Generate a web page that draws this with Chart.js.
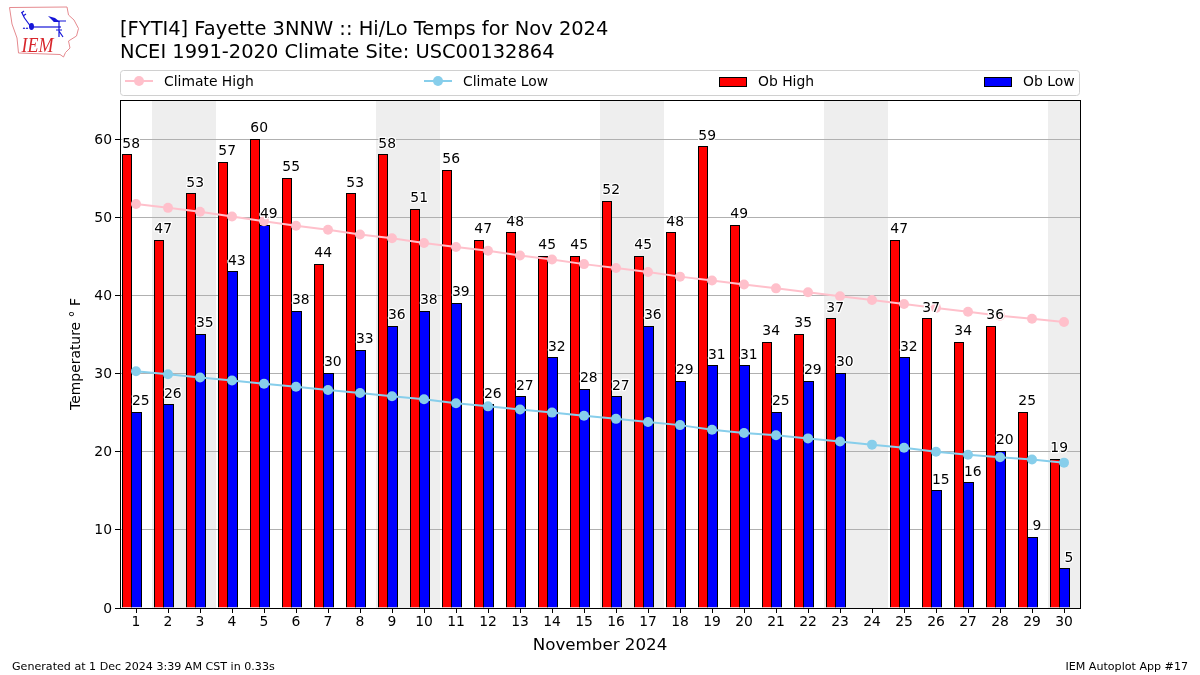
<!DOCTYPE html>
<html>
<head>
<meta charset="utf-8">
<title>Hi/Lo Temps</title>
<script src="https://cdn.jsdelivr.net/npm/chart.js"></script>
<style>
  html, body { margin: 0; padding: 0; background: #fff; }
  #wrap { position: relative; width: 1200px; height: 675px; overflow: hidden; }
  canvas { display: block; }
  #logo { position: absolute; left: 0; top: 0; }
</style>
</head>
<body>
<div id="wrap">
  <canvas id="chart" width="1200" height="675"></canvas>
  <svg id="logo" width="90" height="62" viewBox="0 0 90 62">
    <path d="M9.5 7.5 L67 7 L68.5 15 L74 20 L78.5 28.5 L76.5 36 L68.5 41 L70 48 L65.5 52.5 L63.5 57 L60 54.5 L18.5 53 L17 38 L12 24 Z"
          fill="none" stroke="#e58a8f" stroke-width="1"/>
    <g stroke="#1515d8" fill="none" stroke-width="1.2">
      <path d="M31 27 H61"/>
      <path d="M31 27 L24.5 18 M24.5 18 L21.5 12 M21.5 13 L24 11 M23 16 L26 14"/>
      <path d="M53.5 21 H66 M59 21 V37 M56 30 H62 M59 31 L63 37"/>
    </g>
    <ellipse cx="31.5" cy="26.5" rx="2.5" ry="3.4" fill="#1515d8"/>
    <path d="M48 16 L55 18 L60 22 L54 22 Z" fill="#1515d8"/>
    <path d="M24 27 l1.3 2 h-2.6 Z M27 27 l1.3 2 h-2.6 Z" fill="#2a2ad8"/>
    <text x="21.5" y="52" font-family="Liberation Serif" font-style="italic" font-size="22" textLength="32" lengthAdjust="spacingAndGlyphs" fill="#d8262c">IEM</text>
  </svg>
</div>
<script>
const days = ['1','2','3','4','5','6','7','8','9','10','11','12','13','14','15','16','17','18','19','20','21','22','23','24','25','26','27','28','29','30'];
const obHigh = [58,47,53,57,60,55,44,53,58,51,56,47,48,45,45,52,45,48,59,49,34,35,37,null,47,37,34,36,25,19];
const obLow = [25,26,35,43,49,38,30,33,36,38,39,26,27,32,28,27,36,29,31,31,25,29,30,null,32,15,16,20,9,5];
const climateHigh = [51.7,51.2,50.7,50.1,49.5,48.9,48.4,47.8,47.3,46.7,46.2,45.7,45.1,44.6,44.0,43.5,43.0,42.4,41.9,41.4,40.9,40.4,39.9,39.4,38.9,38.4,37.9,37.4,37.0,36.6];
const climateLow = [30.3,29.9,29.5,29.1,28.7,28.3,27.9,27.5,27.1,26.7,26.2,25.8,25.4,25.0,24.6,24.2,23.8,23.4,22.8,22.4,22.1,21.7,21.3,20.9,20.5,20.0,19.6,19.3,19.0,18.6];
// Sat/Sun of Nov 2024, first and last day of each shaded span
const weekends = [['2','3'],['9','10'],['16','17'],['23','24'],['30','30']];

const FONT = '"DejaVu Sans"';
const titleLines = ['[FYTI4] Fayette 3NNW :: Hi/Lo Temps for Nov 2024', 'NCEI 1991-2020 Climate Site: USC00132864'];

// axvspan-style weekend shading, goes in before the grid
const shadePlugin = {
  id: 'shade',
  beforeDraw(chart) {
    const { ctx, chartArea, scales: { x, y } } = chart;
    // y tick text sits 1px lower in the original
    y.getLabelItems().forEach(item => { item.textOffset = 1; });
    const half = (x.getPixelForValue(1) - x.getPixelForValue(0)) / 2;
    ctx.save();
    ctx.fillStyle = '#eeeeee';
    weekends.forEach(([a, b]) => {
      const left = x.getPixelForValue(days.indexOf(a)) - half;
      const right = Math.min(x.getPixelForValue(days.indexOf(b)) + half, chartArea.right);
      ctx.fillRect(left, chartArea.top, right - left, chartArea.height);
    });
    ctx.restore();
  }
};

// Snap bar edges to whole pixels so the black outlines stay crisp, neighbours share an edge
const snapBars = {
  id: 'snapBars',
  afterDatasetsUpdate(chart) {
    [2, 3].forEach(di => {
      chart.getDatasetMeta(di).data.forEach(bar => {
        bar.labelX = bar.x + 4.8;
        bar.labelY = Math.round(bar.y - 7.2);
        const left = Math.round(bar.x - bar.width / 2);
        const right = Math.round(bar.x + bar.width / 2) + 1;
        bar.width = right - left;
        bar.x = left + bar.width / 2;
        bar.y = Math.floor(bar.y);
      });
    });
  }
};

// Value labels above the bars, white halo like the original
const valueLabels = {
  id: 'valueLabels',
  afterDatasetsDraw(chart) {
    const { ctx } = chart;
    ctx.save();
    ctx.font = `13.9px ${FONT}`;
    ctx.textAlign = 'center';
    ctx.textBaseline = 'alphabetic';
    ctx.lineJoin = 'round';
    [2, 3].forEach(di => {
      const meta = chart.getDatasetMeta(di);
      chart.data.datasets[di].data.forEach((v, i) => {
        if (v == null) return;
        const bar = meta.data[i];
        ctx.strokeStyle = '#fff';
        ctx.lineWidth = 2.5;
        ctx.strokeText(String(v), bar.labelX, bar.labelY);
        ctx.fillStyle = '#000';
        ctx.fillText(String(v), bar.labelX, bar.labelY);
      });
    });
    ctx.restore();
  }
};

// Axes frame, titles, legend box and footer
const furniture = {
  id: 'furniture',
  afterDraw(chart) {
    const { ctx, chartArea: a } = chart;
    ctx.save();
    ctx.strokeStyle = '#000';
    ctx.lineWidth = 1;
    ctx.strokeRect(a.left + 0.5, a.top + 0.5, a.width, a.height);

    ctx.fillStyle = '#000';
    ctx.textBaseline = 'alphabetic';
    ctx.font = `19.44px ${FONT}`;
    ctx.fillText(titleLines[0], 120, 35);
    ctx.fillText(titleLines[1], 120, 58);

    ctx.font = `11.1px ${FONT}`;
    ctx.fillText('Generated at 1 Dec 2024 3:39 AM CST in 0.33s', 12, 670);
    ctx.textAlign = 'right';
    ctx.fillText('IEM Autoplot App #17', 1188, 670);
    ctx.textAlign = 'left';

    // legend
    ctx.strokeStyle = '#d0d0d0';
    ctx.beginPath();
    ctx.roundRect(120.5, 70.5, 959, 25, 3);
    ctx.stroke();
    ctx.font = `13.9px ${FONT}`;
    const slots = [[125, 0], [424, 1], [719, 2], [984, 3]];
    slots.forEach(([sx, di]) => {
      const ds = chart.data.datasets[di];
      if (ds.type === 'line') {
        ctx.strokeStyle = ds.borderColor;
        ctx.lineWidth = 2;
        ctx.beginPath();
        ctx.moveTo(sx, 81);
        ctx.lineTo(sx + 28, 81);
        ctx.stroke();
        ctx.fillStyle = ds.pointBackgroundColor;
        ctx.beginPath();
        ctx.arc(sx + 14, 81, 5, 0, Math.PI * 2);
        ctx.fill();
      } else {
        ctx.fillStyle = ds.backgroundColor;
        ctx.fillRect(sx, 77, 28, 10);
        ctx.strokeStyle = '#000';
        ctx.lineWidth = 1;
        ctx.strokeRect(sx + 0.5, 77.5, 27, 9);
      }
      ctx.fillStyle = '#000';
      ctx.fillText(ds.label, sx + 39, 86);
    });
    ctx.restore();
  }
};

Chart.defaults.font.family = FONT;
Chart.defaults.color = '#000';

new Chart(document.getElementById('chart'), {
  data: {
    labels: days,
    datasets: [
      { type: 'line', label: 'Climate High', data: climateHigh, order: 0,
        borderColor: '#ffc0cb', backgroundColor: '#ffc0cb', pointBackgroundColor: '#ffc0cb',
        borderWidth: 2, pointRadius: 5, pointBorderWidth: 0, tension: 0 },
      { type: 'line', label: 'Climate Low', data: climateLow, order: 0,
        borderColor: '#87ceeb', backgroundColor: '#87ceeb', pointBackgroundColor: '#87ceeb',
        borderWidth: 2, pointRadius: 5, pointBorderWidth: 0, tension: 0 },
      { type: 'bar', label: 'Ob High', data: obHigh, order: 1, backgroundColor: '#ff0000', borderColor: '#000', borderWidth: 1, inflateAmount: 0 },
      { type: 'bar', label: 'Ob Low', data: obLow, order: 1, backgroundColor: '#0000ff', borderColor: '#000', borderWidth: 1, inflateAmount: 0 },
      // empty third slot: original bars sit left of the tick, not centred on it
      { type: 'bar', label: '', data: [], order: 1 }
    ]
  },
  options: {
    responsive: false,
    animation: false,
    events: [],
    layout: { padding: { top: 100, right: 120, left: 0, bottom: 0 } },
    datasets: { bar: { barPercentage: 1, categoryPercentage: 0.9 } },
    plugins: { legend: { display: false }, tooltip: { enabled: false } },
    scales: {
      x: {
        type: 'category',
        afterFit: s => { s.height = 67; },
        grid: { offset: false, drawOnChartArea: false, tickLength: 5, tickColor: '#000', tickWidth: 1 },
        border: { display: false },
        ticks: { font: { size: 13.9 }, maxRotation: 0, autoSkip: false, padding: 1 },
        title: { display: true, text: 'November 2024', font: { size: 16.7 }, padding: { top: 3, bottom: 19 } }
      },
      y: {
        min: 0,
        max: 65,
        afterFit: s => { s.width = 120; },
        grid: { color: '#b0b0b0', lineWidth: 1, tickLength: 5, tickColor: '#000' },
        border: { display: false },
        ticks: { stepSize: 10, includeBounds: false, font: { size: 13.9 }, padding: 3 },
        title: { display: true, text: 'Temperature \u00b0 F', font: { size: 13.9 }, padding: { top: 68, bottom: 0 } }
      }
    }
  },
  plugins: [shadePlugin, snapBars, valueLabels, furniture]
});
</script>
</body>
</html>
